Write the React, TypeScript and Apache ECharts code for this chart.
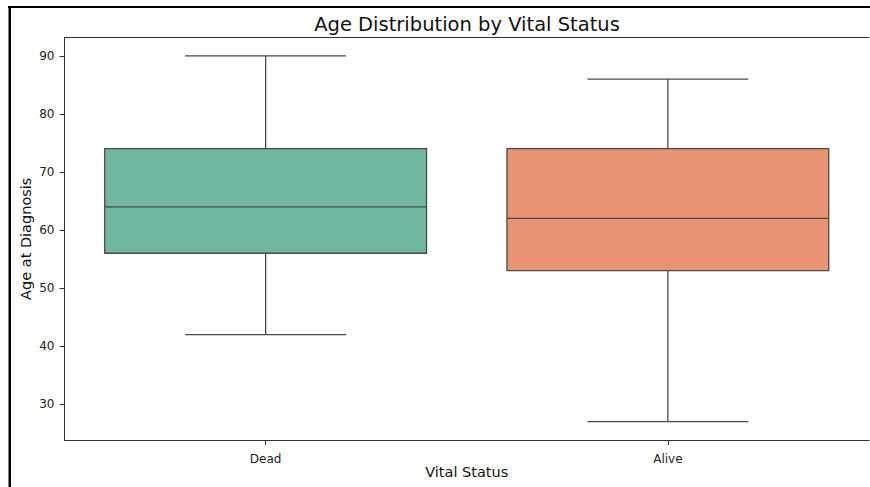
import React, { useEffect, useRef } from "react";
import * as echarts from "echarts";

const categories = ["Dead", "Alive"];
const whiskerLow = [42, 27];
const q1 = [56, 53];
const median = [64, 62];
const q3 = [74, 74];
const whiskerHigh = [90, 86];
const yTicks = [30, 40, 50, 60, 70, 80, 90];
const boxColors = ["#71b6a0", "#e99575"];

const LINE = "#4a4a4a";
const AXIS = "#333333";
const FONT = "DejaVu Sans";

export default function App() {
  const ref = useRef<HTMLDivElement>(null);
  useEffect(() => {
    document.body.style.margin = "0";
    const chart = echarts.init(ref.current!, null, { renderer: "svg" });
    const lo = Math.min(...whiskerLow);
    const hi = Math.max(...whiskerHigh);
    const pad = (hi - lo) * 0.05;
    const data = categories.map((c, i) => [i, whiskerLow[i], q1[i], median[i], q3[i], whiskerHigh[i]]);
    chart.setOption({
      animation: false,
      backgroundColor: "#ffffff",
      grid: {
        left: 64.5,
        top: 37.5,
        right: 1,
        bottom: 47,
        containLabel: false,
        outerBoundsMode: "none",
        show: false,
      },
      graphic: [
        {
          type: "text",
          x: 467,
          y: 24,
          style: {
            text: "Age Distribution by Vital Status",
            font: `19.5px '${FONT}'`,
            fill: "#111",
            textAlign: "center",
            textVerticalAlign: "middle",
          },
        },
        {
          type: "line",
          shape: { x1: 8, y1: 7, x2: 870, y2: 7 },
          style: { stroke: "#000", lineWidth: 2 },
        },
        {
          type: "line",
          shape: { x1: 9.75, y1: 6, x2: 9.75, y2: 487 },
          style: { stroke: "#000", lineWidth: 2.5 },
        },
      ],
      xAxis: [
        {
          type: "category",
          data: categories,
          boundaryGap: true,
          name: "Vital Status",
          nameLocation: "middle",
          nameGap: 24,
          nameMoveOverlap: false,
          nameTextStyle: { fontFamily: FONT, fontSize: 14.5, color: "#111" },
          axisLine: { show: true, lineStyle: { color: AXIS, width: 1 } },
          axisTick: { show: true, alignWithLabel: true, length: 5, lineStyle: { color: AXIS } },
          axisLabel: { fontFamily: FONT, fontSize: 12, color: "#222", margin: 12.5 },
          splitLine: { show: false },
        },
        {
          type: "category",
          data: categories,
          position: "top",
          axisLine: { show: true, lineStyle: { color: AXIS, width: 1 } },
          axisTick: { show: false },
          axisLabel: { show: false },
          splitLine: { show: false },
        },
      ],
      yAxis: {
        type: "value",
        min: lo - pad,
        max: hi + pad,
        name: "Age at Diagnosis",
        nameLocation: "middle",
        nameRotate: 90,
        nameGap: 31,
        nameMoveOverlap: false,
        nameTextStyle: { fontFamily: FONT, fontSize: 14.5, color: "#111" },
        axisLine: { show: true, lineStyle: { color: AXIS, width: 1 } },
        axisTick: { show: true, length: 5, customValues: yTicks, lineStyle: { color: AXIS } },
        axisLabel: { fontFamily: FONT, fontSize: 12, color: "#222", margin: 10, customValues: yTicks },
        splitLine: { show: false },
      },
      series: [
        {
          type: "custom",
          xAxisIndex: 0,
          data,
          encode: { x: 0, y: [1, 2, 3, 4, 5] },
          renderItem: (params: any, api: any) => {
            const idx = api.value(0);
            const pLo = api.coord([idx, api.value(1)]);
            const pQ1 = api.coord([idx, api.value(2)]);
            const pMed = api.coord([idx, api.value(3)]);
            const pQ3 = api.coord([idx, api.value(4)]);
            const pHi = api.coord([idx, api.value(5)]);
            const band = api.size([1, 0])[0];
            const bw = band * 0.8;
            const cw = band * 0.4;
            const x = pLo[0];
            const ls = { stroke: LINE, lineWidth: 1.3 };
            return {
              type: "group",
              children: [
                { type: "line", shape: { x1: x, y1: pQ1[1], x2: x, y2: pLo[1] }, style: ls },
                { type: "line", shape: { x1: x, y1: pQ3[1], x2: x, y2: pHi[1] }, style: ls },
                { type: "line", shape: { x1: x - cw / 2, y1: pLo[1], x2: x + cw / 2, y2: pLo[1] }, style: ls },
                { type: "line", shape: { x1: x - cw / 2, y1: pHi[1], x2: x + cw / 2, y2: pHi[1] }, style: ls },
                {
                  type: "rect",
                  shape: { x: x - bw / 2, y: pQ3[1], width: bw, height: pQ1[1] - pQ3[1] },
                  style: { fill: boxColors[idx], stroke: LINE, lineWidth: 1.3 },
                },
                { type: "line", shape: { x1: x - bw / 2, y1: pMed[1], x2: x + bw / 2, y2: pMed[1] }, style: ls },
              ],
            };
          },
        },
      ],
    });
    return () => chart.dispose();
  }, []);
  return (
    <div
      ref={ref}
      style={{ position: "absolute", left: 0, top: 0, width: 870, height: 487 }}
    />
  );
}
